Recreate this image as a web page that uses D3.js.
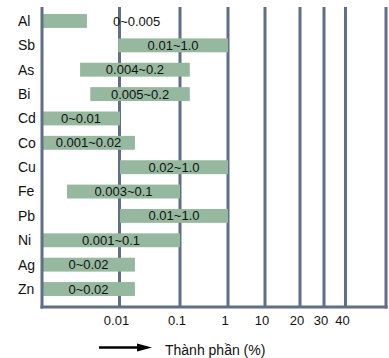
<!DOCTYPE html>
<html>
<head>
<meta charset="utf-8">
<script src="https://cdn.jsdelivr.net/npm/d3@7"></script>
<style>
  html, body { margin: 0; padding: 0; background: #fff; }
  svg { display: block; font-family: "Liberation Sans", Arial, sans-serif; }
</style>
</head>
<body>
<svg id="chart" width="389" height="358"></svg>
<script>
// nguyên tố
const elements = ["Al", "Sb", "As", "Bi", "Cd", "Co", "Cu", "Fe", "Pb", "Ni", "Ag", "Zn"];
// đầu / cuối của thanh (% , đọc trên trục)
const barStart = [0.001, 0.0096, 0.0031, 0.0042, 0.001, 0.001, 0.0102, 0.0021, 0.0102, 0.001, 0.001, 0.001];
const barEnd   = [0.0038, 1.0, 0.16, 0.16, 0.0102, 0.018, 1.0, 0.1, 1.0, 0.1, 0.018, 0.018];
// nhãn trên thanh
const rangeLabels = ["0~0.005", "0.01~1.0", "0.004~0.2", "0.005~0.2", "0~0.01", "0.001~0.02",
                     "0.02~1.0", "0.003~0.1", "0.01~1.0", "0.001~0.1", "0~0.02", "0~0.02"];
// vạch chia trục x
const tickValues = [0.01, 0.1, 1, 10, 20, 30, 40];
const tickLabels = ["0.01", "0.1", "1", "10", "20", "30", "40"];

const plotLeft = 42, plotRight = 386, plotTop = 7, plotBottom = 307;
const gridColor = "#5f6f87";
const barColor = "#96b89f";

const svg = d3.select("#chart");

// trục không đều (vẽ tay) -> thang tuyến tính từng đoạn trên log10
const xLog = d3.scaleLinear()
    .domain([-3, -2, -1, 0, 1, Math.log10(20), Math.log10(30), Math.log10(40)])
    .range([plotLeft, 119.5, 180, 228, 265, 300, 324, 345.5]);
const x = v => xLog(Math.log10(v));

const y = d3.scaleBand()
    .domain(elements)
    .range([8.8, 301.2])
    .paddingInner(0.43)
    .paddingOuter(0.215);

// lưới dọc
svg.append("g")
    .selectAll("line")
    .data(tickValues)
    .join("line")
    .attr("x1", d => x(d)).attr("x2", d => x(d))
    .attr("y1", plotTop).attr("y2", plotBottom)
    .attr("stroke", gridColor)
    .attr("stroke-width", 3);

// thanh
const rows = elements.map((e, i) => ({ name: e, s: barStart[i], e: barEnd[i], label: rangeLabels[i] }));

svg.append("g")
    .selectAll("rect")
    .data(rows)
    .join("rect")
    .attr("x", d => x(d.s))
    .attr("y", d => y(d.name))
    .attr("width", d => x(d.e) - x(d.s))
    .attr("height", y.bandwidth())
    .attr("fill", barColor);

// nhãn trên thanh
const labels = svg.append("g")
    .selectAll("text")
    .data(rows)
    .join("text")
    .attr("y", d => y(d.name) + y.bandwidth() / 2)
    .attr("dy", "0.35em")
    .attr("font-size", 13)
    .attr("fill", "#111")
    .text(d => d.label);

labels.each(function(d) {
    const w = this.getComputedTextLength();
    const x0 = x(d.s), x1 = x(d.e);
    if (w > x1 - x0 - 4) {
        // thanh quá hẹp -> đặt chữ bên phải
        d3.select(this).attr("x", x1 + 26).attr("text-anchor", "start");
    } else {
        d3.select(this).attr("x", (x0 + x1) / 2).attr("text-anchor", "middle");
    }
});

// khung: trái, phải, dưới
svg.append("line")
    .attr("x1", plotLeft).attr("x2", plotLeft)
    .attr("y1", plotTop).attr("y2", plotBottom + 1.5)
    .attr("stroke", gridColor).attr("stroke-width", 3);
svg.append("line")
    .attr("x1", plotRight).attr("x2", plotRight)
    .attr("y1", plotTop).attr("y2", plotBottom + 1.5)
    .attr("stroke", gridColor).attr("stroke-width", 3);
svg.append("line")
    .attr("x1", plotLeft - 1.5).attr("x2", plotRight + 1.5)
    .attr("y1", plotBottom).attr("y2", plotBottom)
    .attr("stroke", gridColor).attr("stroke-width", 3);

// tên nguyên tố
svg.append("g")
    .selectAll("text")
    .data(elements)
    .join("text")
    .attr("x", 18)
    .attr("y", d => y(d) + y.bandwidth() / 2)
    .attr("dy", "0.35em")
    .attr("font-size", 14)
    .attr("fill", "#111")
    .text(d => d);

// nhãn trục x
svg.append("g")
    .selectAll("text")
    .data(tickValues)
    .join("text")
    .attr("x", d => x(d) - 3)
    .attr("y", 325)
    .attr("text-anchor", "middle")
    .attr("font-size", 13)
    .attr("fill", "#111")
    .text((d, i) => tickLabels[i]);

// mũi tên + tiêu đề trục
svg.append("line")
    .attr("x1", 99).attr("x2", 140)
    .attr("y1", 347.5).attr("y2", 347.5)
    .attr("stroke", "#000").attr("stroke-width", 2.5);
svg.append("path")
    .attr("d", "M137,343.5 L152,347.5 L137,351.5 Z")
    .attr("fill", "#000");
svg.append("text")
    .attr("x", 165)
    .attr("y", 355)
    .attr("font-size", 14)
    .attr("fill", "#111")
    .text("Thành phần (%)");
</script>
</body>
</html>
